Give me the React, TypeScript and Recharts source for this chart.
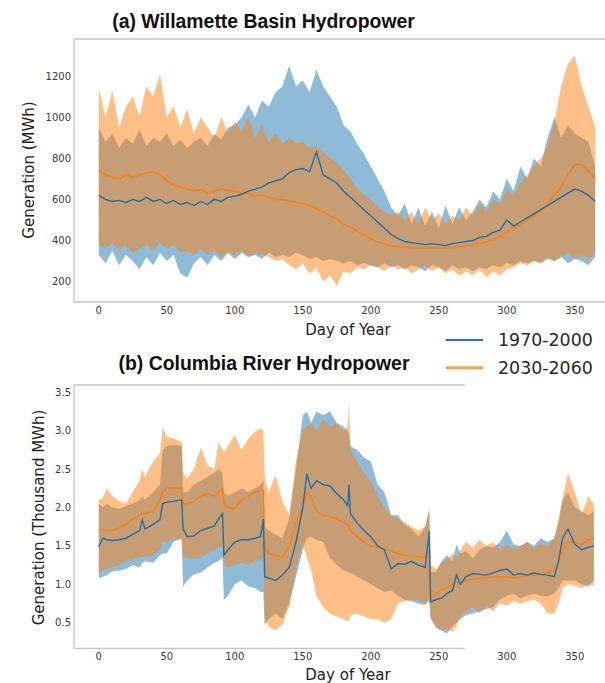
import React from 'react';
import { ComposedChart, Area, Line, XAxis, YAxis, ReferenceLine } from 'recharts';

// ---------- Panel (a): Willamette Basin ----------
const DAYS_A = [0,5,10,15,20,25,30,35,40,45,50,55,60,65,70,75,80,85,90,95,100,105,110,115,120,125,130,135,140,145,150,155,160,165,170,175,180,185,190,195,200,205,210,215,220,225,230,235,240,245,250,255,260,265,270,275,280,285,290,295,300,305,310,315,320,325,330,335,340,345,350,355,360,365];
const A_BLUE_MEAN = [620,600,590,595,585,600,590,610,590,600,580,595,575,585,570,590,575,600,590,610,615,625,640,650,660,680,690,700,730,745,750,735,830,720,700,680,640,610,580,550,520,490,460,430,410,395,390,385,380,385,380,375,385,390,395,400,415,420,440,450,500,470,490,510,530,550,570,590,610,630,650,640,620,590];
const A_BLUE_UP = [950,880,920,850,900,870,940,860,900,880,920,860,890,850,880,900,860,920,890,950,960,1000,1060,1000,1080,1050,1120,1150,1250,1150,1180,1120,1230,1150,1100,1050,960,930,870,820,760,700,640,560,520,580,480,560,470,540,460,570,480,560,500,540,600,560,640,600,700,640,760,700,800,760,900,1000,900,960,920,900,880,760];
const A_BLUE_LO = [330,290,350,280,330,300,260,320,280,340,300,330,240,220,290,320,280,330,300,340,310,340,320,330,310,340,320,330,320,340,330,310,320,300,310,300,290,300,280,290,280,270,290,270,280,260,280,270,250,280,270,250,280,260,270,250,270,260,280,270,290,280,300,290,300,290,310,300,320,290,310,300,280,320];
const A_ORANGE_MEAN = [740,720,710,700,720,705,720,730,735,720,690,670,660,650,640,650,630,640,650,645,640,630,630,615,620,610,600,600,595,585,580,570,555,540,520,505,480,465,445,425,410,395,385,375,370,368,365,365,363,365,362,365,365,370,375,380,385,395,405,420,440,460,480,500,520,545,580,620,660,720,770,770,740,700];
const A_ORANGE_UP = [1140,1000,1130,950,1050,1100,1000,1150,1100,1210,1000,1050,950,1040,920,1000,950,900,1000,920,980,930,1000,900,960,880,920,870,900,870,880,850,860,830,800,780,740,700,650,620,600,560,540,520,540,500,540,480,560,500,530,480,520,500,560,520,580,540,600,580,640,620,680,720,760,800,860,980,1150,1260,1300,1150,1050,950];
const A_ORANGE_LO = [380,360,390,350,380,340,360,380,350,390,360,380,340,350,330,360,330,350,320,340,330,350,320,340,330,320,300,310,280,260,290,240,270,200,230,180,250,240,270,260,280,270,250,280,260,270,240,260,280,250,270,240,260,230,250,230,260,220,250,230,260,270,290,280,300,290,320,300,320,340,310,330,310,340];
const A_TICKS_Y = [200,400,600,800,1000,1200];

// ---------- Panel (b): Columbia River ----------
const DAYS_B = [0,3,6,10,15,20,25,30,32,34,40,45,47,50,55,61,62,65,70,75,80,85,88,91,92,95,100,105,110,115,119,121,122,125,130,135,140,145,150,153,156,160,165,170,175,180,183,184,185,190,195,200,205,210,215,220,225,230,235,240,243,244,248,252,256,260,263,266,270,275,280,285,290,295,300,305,310,315,320,325,330,335,338,341,345,350,355,360,364];
const B_BLUE_MEAN = [1.49,1.60,1.58,1.57,1.58,1.60,1.65,1.70,1.84,1.72,1.78,1.84,2.05,2.07,2.08,2.10,1.72,1.62,1.63,1.70,1.73,1.76,1.85,1.92,1.38,1.45,1.55,1.58,1.58,1.60,1.62,1.85,1.10,1.08,1.05,1.12,1.22,1.55,2.00,2.44,2.25,2.35,2.30,2.28,2.18,2.10,2.02,2.30,1.92,1.80,1.70,1.62,1.50,1.45,1.20,1.27,1.26,1.30,1.25,1.22,1.69,0.77,0.80,0.82,0.88,0.92,1.12,1.00,1.10,1.14,1.13,1.12,1.15,1.18,1.20,1.12,1.14,1.12,1.15,1.13,1.12,1.10,1.30,1.60,1.72,1.52,1.45,1.48,1.50];
const B_BLUE_UP = [2.05,2.00,2.05,2.00,1.98,2.02,2.05,2.10,2.15,2.10,2.20,2.30,2.75,2.80,2.82,2.80,2.20,2.20,2.30,2.35,2.40,2.45,2.50,2.45,2.20,2.15,2.20,2.25,2.20,2.25,2.30,2.35,1.75,1.70,1.65,1.60,1.85,2.50,3.20,3.25,3.10,3.25,3.20,3.25,3.10,3.05,3.00,2.95,2.80,2.75,2.65,2.60,2.30,2.20,1.90,1.90,1.78,1.72,1.62,1.75,1.95,1.16,1.16,1.30,1.38,1.30,1.52,1.40,1.43,1.34,1.45,1.50,1.48,1.55,1.70,1.52,1.50,1.55,1.50,1.60,1.55,1.60,1.80,2.10,2.20,2.00,1.95,1.90,1.95];
const B_BLUE_LO = [1.08,1.10,1.12,1.17,1.18,1.20,1.25,1.22,1.28,1.30,1.28,1.38,1.40,1.40,1.55,1.60,0.97,1.05,1.13,1.15,1.22,1.28,1.30,1.35,0.80,0.85,1.00,1.05,0.97,0.95,0.90,0.90,0.47,0.55,0.62,0.55,0.75,1.10,1.45,1.60,1.62,1.58,1.55,1.34,1.25,1.18,1.16,1.15,1.15,1.10,1.05,1.00,0.95,0.90,0.92,0.85,0.80,0.78,0.75,0.73,0.80,0.56,0.43,0.40,0.36,0.45,0.50,0.55,0.60,0.62,0.65,0.68,0.70,0.80,0.85,0.88,0.82,0.85,0.88,0.85,0.84,0.88,0.95,1.05,1.05,1.05,1.00,0.97,1.05];
const B_ORANGE_MEAN = [1.70,1.72,1.70,1.70,1.73,1.78,1.85,1.90,1.92,1.92,1.95,2.10,2.20,2.25,2.25,2.25,2.05,2.05,2.08,2.15,2.18,2.15,2.20,2.25,2.05,2.00,1.98,2.10,2.15,2.20,2.22,2.22,1.50,1.40,1.38,1.35,1.50,1.80,2.00,2.20,2.15,1.95,1.90,1.88,1.85,1.80,1.78,1.75,1.70,1.62,1.55,1.50,1.48,1.46,1.43,1.40,1.38,1.37,1.36,1.35,1.45,0.82,0.88,0.92,0.96,1.00,1.02,1.02,1.05,1.07,1.08,1.08,1.10,1.10,1.10,1.08,1.10,1.12,1.12,1.13,1.15,1.18,1.30,1.45,1.55,1.55,1.52,1.58,1.60];
const B_ORANGE_UP = [2.10,2.12,2.25,2.15,2.08,2.05,2.20,2.35,2.50,2.40,2.60,2.70,3.05,2.92,2.90,2.85,2.45,2.38,2.50,2.78,2.55,2.50,2.85,2.75,2.72,2.80,2.94,2.75,2.90,2.99,3.03,3.01,2.40,2.20,2.42,2.08,1.90,2.60,3.00,3.05,3.10,3.00,3.15,3.05,3.10,3.00,3.05,3.40,2.75,2.60,2.45,2.35,2.15,1.99,1.90,1.85,1.80,1.75,1.70,1.75,2.00,1.25,1.20,1.28,1.32,1.40,1.35,1.45,1.55,1.48,1.58,1.50,1.55,1.45,1.52,1.45,1.50,1.55,1.48,1.52,1.50,1.60,1.85,2.10,2.45,2.20,1.90,2.15,2.05];
const B_ORANGE_LO = [1.15,1.18,1.20,1.22,1.25,1.30,1.32,1.35,1.36,1.36,1.38,1.45,1.55,1.55,1.58,1.58,1.35,1.35,1.33,1.35,1.40,1.45,1.48,1.50,1.25,1.22,1.25,1.28,1.25,1.30,1.32,1.34,0.56,0.45,0.40,0.48,0.70,1.20,1.55,1.34,1.20,0.85,0.70,0.62,0.58,0.55,0.52,0.52,0.60,0.62,0.58,0.55,0.55,0.50,0.55,0.75,0.78,0.80,0.80,0.75,0.78,0.56,0.45,0.40,0.42,0.38,0.45,0.60,0.65,0.70,0.62,0.72,0.65,0.75,0.72,0.78,0.75,0.78,0.80,0.75,0.62,0.62,0.75,0.95,1.00,0.98,0.95,1.00,0.98];
const B_TICKS_Y = [0.5,1.0,1.5,2.0,2.5,3.0,3.5];

const X_TICKS = [0,50,100,150,200,250,300,350];
const SERIES_NAMES = ['1970-2000', '2030-2060'];
const TITLE_A = '(a) Willamette Basin Hydropower';
const TITLE_B = '(b) Columbia River Hydropower';

const BLUE = '#1f77b4';
const ORANGE = '#ff7f0e';
const FRAME = '#c4c4c4';
const TICK_FONT = { fontSize: 10, fill: '#3a3a3a', fontFamily: 'DejaVu Sans' };

const dataA = DAYS_A.map((d, i) => ({
  day: d,
  bMean: A_BLUE_MEAN[i],
  bBand: [A_BLUE_LO[i], A_BLUE_UP[i]],
  oMean: A_ORANGE_MEAN[i],
  oBand: [A_ORANGE_LO[i], A_ORANGE_UP[i]],
}));
const dataB = DAYS_B.map((d, i) => ({
  day: d,
  bMean: B_BLUE_MEAN[i],
  bBand: [B_BLUE_LO[i], B_BLUE_UP[i]],
  oMean: B_ORANGE_MEAN[i],
  oBand: [B_ORANGE_LO[i], B_ORANGE_UP[i]],
}));

const X_DOMAIN: [number, number] = [-18.2, 372.2];

function Panel({ data, yDomain, yTicks, marginTop, marginBottom, fmt, topLineEnd, bottomLineEnd }: any) {
  return (
    <ComposedChart
      width={605}
      height={683}
      data={data}
      margin={{ top: marginTop, right: 0, bottom: marginBottom, left: 34 }}
    >
      <XAxis
        type="number"
        dataKey="day"
        domain={X_DOMAIN}
        ticks={X_TICKS}
        allowDataOverflow
        height={30}
        tickLine={false}
        tickSize={0}
        tickMargin={5}
        axisLine={false}
        tick={TICK_FONT}
        interval={0}
      />
      <YAxis
        type="number"
        domain={yDomain}
        ticks={yTicks}
        allowDataOverflow
        width={40}
        tickLine={false}
        tickSize={0}
        tickMargin={3}
        axisLine={{ stroke: FRAME, strokeWidth: 1.3 }}
        tick={TICK_FONT}
        tickFormatter={fmt}
        interval={0}
      />
      <Area type="linear" dataKey="bBand" fill={BLUE} fillOpacity={0.5} stroke="none" isAnimationActive={false} />
      <Area type="linear" dataKey="oBand" fill={ORANGE} fillOpacity={0.5} stroke="none" isAnimationActive={false} />
      <Line type="linear" dataKey="oMean" stroke={ORANGE} strokeWidth={1.5} dot={false} isAnimationActive={false} />
      <Line type="linear" dataKey="bMean" stroke="#236fa6" strokeWidth={1.4} dot={false} isAnimationActive={false} />
      <ReferenceLine
        segment={[{ x: X_DOMAIN[0], y: yDomain[1] }, { x: topLineEnd, y: yDomain[1] }]}
        stroke={FRAME}
        strokeWidth={1.3}
        ifOverflow="visible"
      />
      <ReferenceLine
        segment={[{ x: X_DOMAIN[0], y: yDomain[0] }, { x: bottomLineEnd, y: yDomain[0] }]}
        stroke={FRAME}
        strokeWidth={1.3}
        ifOverflow="visible"
      />
    </ComposedChart>
  );
}

export default function App() {
  const abs: React.CSSProperties = { position: 'absolute', left: 0, top: 0 };
  return (
    <div style={{ position: 'absolute', left: 0, top: 0, width: 605, height: 683, overflow: 'hidden', background: '#fff' }}>
      <div style={abs}>
        <Panel
          data={dataA}
          yDomain={[101, 1380]}
          yTicks={A_TICKS_Y}
          marginTop={39}
          marginBottom={351}
          fmt={(v: number) => String(v)}
          topLineEnd={X_DOMAIN[1]}
          bottomLineEnd={X_DOMAIN[1]}
        />
      </div>
      <div style={abs}>
        <Panel
          data={dataB}
          yDomain={[0.167, 3.595]}
          yTicks={B_TICKS_Y}
          marginTop={385}
          marginBottom={4.7}
          fmt={(v: number) => v.toFixed(1)}
          topLineEnd={269}
          bottomLineEnd={269}
        />
      </div>
      <svg width={605} height={683} style={{ ...abs, pointerEvents: 'none' }}>
        <text x={263.5} y={21} textAnchor="middle" dominantBaseline="central" fontFamily="Liberation Sans, Arial, sans-serif" fontWeight="bold" fontSize={19.4} fill="#111">{TITLE_A}</text>
        <text x={264} y={363} textAnchor="middle" dominantBaseline="central" fontFamily="Liberation Sans, Arial, sans-serif" fontWeight="bold" fontSize={19.4} fill="#111">{TITLE_B}</text>
        <text x={29} y={170} textAnchor="middle" dominantBaseline="central" transform="rotate(-90 29 170)" fontFamily="DejaVu Sans" fontSize={15} fill="#222">Generation (MWh)</text>
        <text x={38.6} y={517.5} textAnchor="middle" dominantBaseline="central" transform="rotate(-90 38.6 517.5)" fontFamily="DejaVu Sans" fontSize={15} fill="#222">Generation (Thousand MWh)</text>
        <text x={348} y={330} textAnchor="middle" dominantBaseline="central" fontFamily="DejaVu Sans" fontSize={15} fill="#222">Day of Year</text>
        <text x={348} y={675} textAnchor="middle" dominantBaseline="central" fontFamily="DejaVu Sans" fontSize={15} fill="#222">Day of Year</text>
        <line x1={445.7} x2={483} y1={340} y2={340} stroke={BLUE} strokeWidth={2} />
        <line x1={445.7} x2={483} y1={367.7} y2={367.7} stroke={ORANGE} strokeOpacity={0.75} strokeWidth={3} />
        <text x={498} y={340} dominantBaseline="central" fontFamily="DejaVu Sans" fontSize={17.4} fill="#2a2a2a">{SERIES_NAMES[0]}</text>
        <text x={498} y={368} dominantBaseline="central" fontFamily="DejaVu Sans" fontSize={17.4} fill="#2a2a2a">{SERIES_NAMES[1]}</text>
      </svg>
    </div>
  );
}
